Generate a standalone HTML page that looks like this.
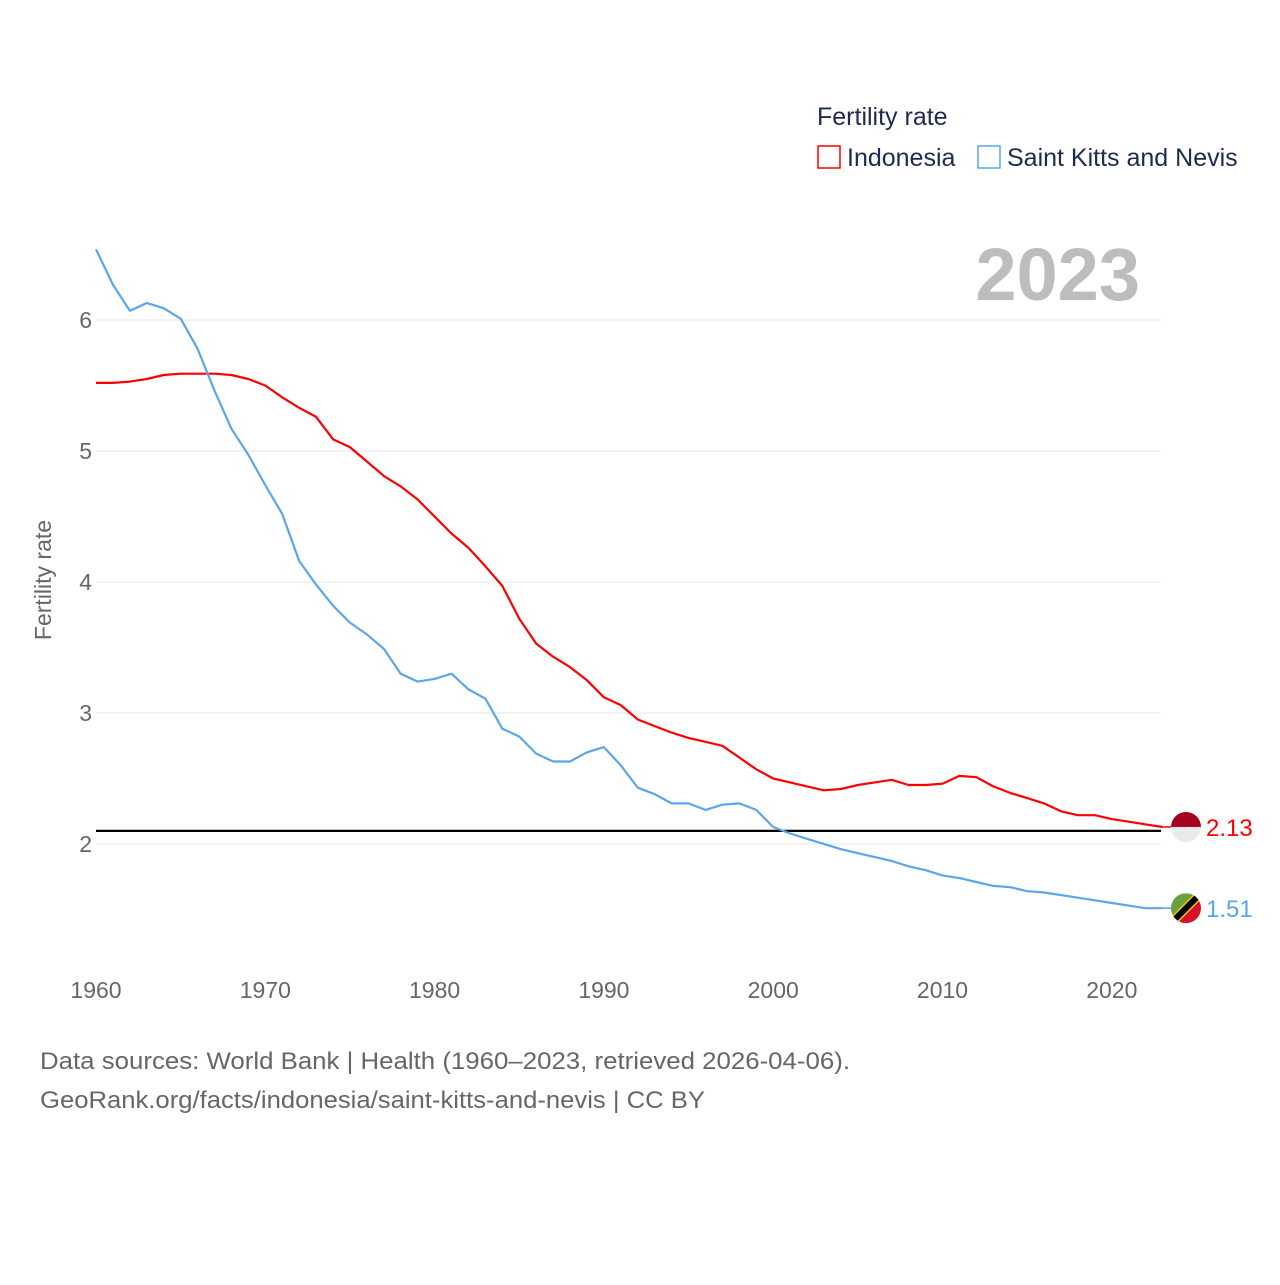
<!DOCTYPE html>
<html><head><meta charset="utf-8"><style>
body{margin:0;background:#fff;font-family:"Liberation Sans",sans-serif}
svg text{font-family:"Liberation Sans",sans-serif}
</style></head><body>
<svg id="chart" width="1280" height="1280" viewBox="0 0 1280 1280">
<g>
<text x="817" y="125" font-size="25" fill="#1d2b4f">Fertility rate</text>
<g><rect x="818" y="146" width="22" height="22" fill="none" stroke="#f00" stroke-width="1.5"/><text x="847" y="166" font-size="25" fill="#1d2b4f">Indonesia</text></g>
<g><rect x="978" y="146" width="22" height="22" fill="none" stroke="#5aa6ea" stroke-width="1.5"/><text x="1007" y="166" font-size="25" fill="#1d2b4f">Saint Kitts and Nevis</text></g>
</g>
<text x="1140" y="300" font-size="74" font-weight="bold" fill="#bdbdbd" text-anchor="end">2023</text>
<text transform="translate(51,580) rotate(-90)" font-size="23" fill="#666" text-anchor="middle">Fertility rate</text>
<g id="grid"></g>
<g id="yticks"></g>
<g id="xticks"></g>
<g id="series"></g>
<g>
<text x="40" y="1069" font-size="24" fill="#666" textLength="810" lengthAdjust="spacingAndGlyphs">Data sources: World Bank | Health (1960–2023, retrieved 2026-04-06).</text>
<text x="40" y="1108" font-size="24" fill="#666" textLength="665" lengthAdjust="spacingAndGlyphs">GeoRank.org/facts/indonesia/saint-kitts-and-nevis | CC BY</text>
</g>
</svg>
<script>
const years=[];for(let y=1960;y<=2023;y++)years.push(y);
const indonesia=[5.52,5.52,5.53,5.55,5.58,5.59,5.59,5.59,5.58,5.55,5.50,5.41,5.33,5.26,5.09,5.03,4.92,4.81,4.73,4.63,4.50,4.37,4.26,4.12,3.97,3.72,3.53,3.43,3.35,3.25,3.12,3.06,2.95,2.90,2.85,2.81,2.78,2.75,2.66,2.57,2.50,2.47,2.44,2.41,2.42,2.45,2.47,2.49,2.45,2.45,2.46,2.52,2.51,2.44,2.39,2.35,2.31,2.25,2.22,2.22,2.19,2.17,2.15,2.13];
const stkitts=[6.54,6.27,6.07,6.13,6.09,6.01,5.78,5.46,5.17,4.97,4.74,4.52,4.16,3.98,3.82,3.69,3.60,3.49,3.30,3.24,3.26,3.30,3.18,3.11,2.88,2.82,2.69,2.63,2.63,2.70,2.74,2.60,2.43,2.38,2.31,2.31,2.26,2.30,2.31,2.26,2.13,2.08,2.04,2.00,1.96,1.93,1.90,1.87,1.83,1.80,1.76,1.74,1.71,1.68,1.67,1.64,1.63,1.61,1.59,1.57,1.55,1.53,1.51,1.51];
const yTicks=[2,3,4,5,6];
const xTicks=[1960,1970,1980,1990,2000,2010,2020];
const replacement=[2.1];
const X=y=>96+(y-1960)*16.93;
const Y=v=>844-(v-2)*131;
const NS="http://www.w3.org/2000/svg";
function mk(tag,attrs,parent,txt){const e=document.createElementNS(NS,tag);for(const k in attrs)e.setAttribute(k,attrs[k]);if(txt!==undefined)e.textContent=txt;parent.appendChild(e);return e;}
const grid=document.getElementById('grid'),yt=document.getElementById('yticks'),xt=document.getElementById('xticks'),ser=document.getElementById('series');
yTicks.forEach(v=>{
 const l=mk('line',{x1:96,x2:1161,y1:Y(v),y2:Y(v),stroke:'#e6e6e6','stroke-width':1},grid);
 
 
 const t=mk('text',{x:92,y:Y(v)+8,'font-size':23,fill:'#666','text-anchor':'end'},yt,String(v));
 
 
});
xTicks.forEach(v=>{
 const t=mk('text',{x:X(v),y:998,'font-size':23,fill:'#666','text-anchor':'middle'},xt,String(v));
 
 
});
replacement.forEach(v=>{
 const l=mk('line',{x1:96,x2:1161,y1:Y(v),y2:Y(v),stroke:'#000','stroke-width':2.2},ser);
 
 
});
function line(data,color,name){
 const d=data.map((v,i)=>(i?'L':'M')+X(years[i]).toFixed(1)+','+Y(v).toFixed(1)).join('');
 const p=mk('path',{d:d,fill:'none',stroke:color,'stroke-width':2.2,'stroke-linejoin':'round'},ser);
 
 
 const lv=data[data.length-1],lx=X(years[years.length-1]);
 mk('line',{x1:lx,x2:lx+10,y1:Y(lv),y2:Y(lv),stroke:color,'stroke-width':1.5},ser);
 const t=mk('text',{x:1206,y:Y(lv)+9,'font-size':24,fill:color},ser,lv.toFixed(2));
 
 
 return Y(lv);
}
const yi=line(indonesia,'#ff0000','indonesia');
const ys=line(stkitts,'#5aa6ea','saint-kitts');
const fi=mk('g',{},ser);


mk('clipPath',{id:'c1'},fi);document.getElementById('c1').appendChild(document.createElementNS(NS,'circle'));
const c1=document.querySelector('#c1 circle');c1.setAttribute('cx',1186);c1.setAttribute('cy',yi);c1.setAttribute('r',15);
mk('rect',{x:1171,y:yi-15,width:30,height:15,fill:'#a50020','clip-path':'url(#c1)'},fi);
mk('rect',{x:1171,y:yi,width:30,height:15,fill:'#eaeaea','clip-path':'url(#c1)'},fi);
const fs=mk('g',{},ser);


mk('clipPath',{id:'c2'},fs);const c2=document.createElementNS(NS,'circle');document.getElementById('c2').appendChild(c2);
c2.setAttribute('cx',1186);c2.setAttribute('cy',ys);c2.setAttribute('r',15);
mk('polygon',{points:`1171,${ys-15} 1201,${ys-15} 1171,${ys+15}`,fill:'#6aa040','clip-path':'url(#c2)'},fs);
mk('polygon',{points:`1201,${ys-15} 1201,${ys+15} 1171,${ys+15}`,fill:'#d8102a','clip-path':'url(#c2)'},fs);
mk('line',{x1:1173,y1:ys+13,x2:1199,y2:ys-13,stroke:'#f2c500','stroke-width':9,'clip-path':'url(#c2)'},fs);
mk('line',{x1:1173,y1:ys+13,x2:1199,y2:ys-13,stroke:'#000','stroke-width':6,'clip-path':'url(#c2)'},fs);
</script>
</body></html>
